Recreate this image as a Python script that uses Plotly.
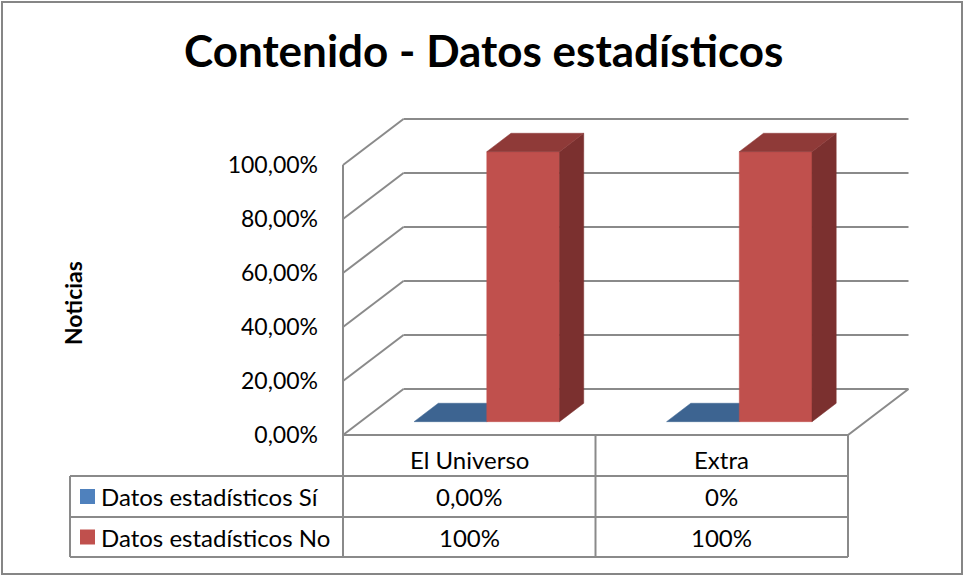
import plotly.graph_objects as go

# ---------------- data ----------------
categories = ["El Universo", "Extra"]
series_names = ["Datos estadísticos Sí", "Datos estadísticos No"]
si_values = [0.0, 0.0]
no_values = [100.0, 100.0]
si_labels = ["0,00%", "0%"]
no_labels = ["100%", "100%"]
y_ticks = [0, 20, 40, 60, 80, 100]
y_ticktext = ["0,00%", "20,00%", "40,00%", "60,00%", "80,00%", "100,00%"]
chart_title = "Contenido - Datos estadísticos"
y_title = "Noticias"

# ---------------- layout / style constants ----------------
W, H = 964, 576
PX_X0 = 343.0        # pixel where category axis starts (front)
PX_PER_CAT = 252.5   # pixels per category
PX_Y0 = 435.0        # pixel of 0% on front edge
PX_PER_PCT = 2.7     # pixels per percent
DEPTH_PX_X = 60.5
DEPTH_PX_Y = 46.0
DX = DEPTH_PX_X / PX_PER_CAT
DY = DEPTH_PX_Y / PX_PER_PCT
BAR_W = 0.288
D_FRONT, D_BACK = 0.29, 0.69
GRID = "#8a8a8a"
FONT = "Lato"

colors = [
    dict(front="#4F81BD", top="#3D6491", side="#2F4E72", key="#4F81BD"),
    dict(front="#C0504D", top="#8F3A38", side="#7B302F", key="#C0504D"),
]

n = len(categories)
xr = [-PX_X0 / PX_PER_CAT, (W - PX_X0) / PX_PER_CAT]
yr = [(PX_Y0 - H) / PX_PER_PCT, PX_Y0 / PX_PER_PCT]


def P(x, v, d):
    return x + d * DX, v + d * DY


def px(xd):  # data x -> paper
    return (PX_X0 + xd * PX_PER_CAT) / W


def py(p):  # pixel y -> paper
    return 1 - p / H


def pxp(p):  # pixel x -> paper
    return p / W


fig = go.Figure()


def line(pts, color=GRID, width=2):
    xs = [p[0] for p in pts]
    ys = [p[1] for p in pts]
    fig.add_trace(go.Scatter(x=xs, y=ys, mode="lines", line=dict(color=color, width=width),
                             hoverinfo="skip", showlegend=False))


def poly(pts, color):
    xs = [p[0] for p in pts] + [pts[0][0]]
    ys = [p[1] for p in pts] + [pts[0][1]]
    fig.add_trace(go.Scatter(x=xs, y=ys, mode="lines", fill="toself", fillcolor=color,
                             line=dict(color=color, width=0.5), hoverinfo="skip", showlegend=False))


# walls
for t in y_ticks:
    line([P(0, t, 1), P(n, t, 1)])
    line([P(0, t, 0), P(0, t, 1)])
line([P(0, 0, 0), P(0, max(y_ticks), 0)])
line([P(0, 0, 0), P(n, 0, 0), P(n, 0, 1)])

# bars
values = [si_values, no_values]
for i in range(n):
    c = i + 0.5
    for s in range(2):
        v = values[s][i]
        x0 = c - BAR_W + s * BAR_W
        x1 = x0 + BAR_W
        col = colors[s]
        if v > 0:
            poly([P(x0, 0, D_FRONT), P(x1, 0, D_FRONT), P(x1, v, D_FRONT), P(x0, v, D_FRONT)], col["front"])
            poly([P(x1, 0, D_FRONT), P(x1, 0, D_BACK), P(x1, v, D_BACK), P(x1, v, D_FRONT)], col["side"])
        poly([P(x0, v, D_FRONT), P(x1, v, D_FRONT), P(x1, v, D_BACK), P(x0, v, D_BACK)], col["top"])

shapes = []
# outer border
shapes.append(dict(type="rect", xref="paper", yref="paper", x0=pxp(2), x1=pxp(962), y0=py(574), y1=py(2),
                   line=dict(color="#868686", width=2)))
# table
T_LEFT = 70
ROW_Y = [476, 517, 557]
for ry in ROW_Y:
    shapes.append(dict(type="line", xref="paper", yref="paper", x0=pxp(T_LEFT), x1=px(n), y0=py(ry), y1=py(ry),
                       line=dict(color=GRID, width=2)))
shapes.append(dict(type="line", xref="paper", yref="paper", x0=pxp(T_LEFT), x1=pxp(T_LEFT), y0=py(ROW_Y[0]), y1=py(ROW_Y[-1]),
                   line=dict(color=GRID, width=2)))
for k in range(n + 1):
    shapes.append(dict(type="line", xref="x", yref="paper", x0=k, x1=k, y0=py(PX_Y0), y1=py(ROW_Y[-1]),
                       line=dict(color=GRID, width=2)))
# legend keys
row_centers = [(ROW_Y[0] + ROW_Y[1]) / 2, (ROW_Y[1] + ROW_Y[2]) / 2]
for s in range(2):
    rc = row_centers[s]
    shapes.append(dict(type="rect", xref="paper", yref="paper", x0=pxp(80), x1=pxp(95), y0=py(rc + 7.5), y1=py(rc - 7.5),
                       fillcolor=colors[s]["key"], line=dict(width=0)))

TXT = 24
annotations = []
annotations.append(dict(text=chart_title, xref="paper", yref="paper", x=pxp(483), y=py(50), showarrow=False,
                        xanchor="center", yanchor="middle", font=dict(family=FONT, size=44, color="black", weight="bold")))
annotations.append(dict(text=y_title, xref="paper", yref="paper", x=pxp(73), y=py(303), showarrow=False, textangle=-90,
                        xanchor="center", yanchor="middle", font=dict(family=FONT, size=23, color="black", weight="bold")))
for i, cat in enumerate(categories):
    annotations.append(dict(text=cat, xref="x", yref="paper", x=i + 0.5, y=py(459), showarrow=False,
                            xanchor="center", yanchor="middle", font=dict(family=FONT, size=TXT, color="black")))
    annotations.append(dict(text=si_labels[i], xref="x", yref="paper", x=i + 0.5, y=py(row_centers[0]), showarrow=False,
                            xanchor="center", yanchor="middle", font=dict(family=FONT, size=TXT, color="black")))
    annotations.append(dict(text=no_labels[i], xref="x", yref="paper", x=i + 0.5, y=py(row_centers[1]), showarrow=False,
                            xanchor="center", yanchor="middle", font=dict(family=FONT, size=TXT, color="black")))
for s in range(2):
    annotations.append(dict(text=series_names[s], xref="paper", yref="paper", x=pxp(99), y=py(row_centers[s]), showarrow=False,
                            xanchor="left", yanchor="middle", font=dict(family=FONT, size=TXT, color="black")))

fig.update_layout(
    width=W, height=H, margin=dict(l=0, r=0, t=0, b=0, pad=0),
    paper_bgcolor="white", plot_bgcolor="white", showlegend=False,
    xaxis=dict(range=xr, visible=False, fixedrange=True),
    yaxis=dict(range=yr, anchor="free", position=PX_X0 / W, showgrid=False, zeroline=False, showline=False,
               tickvals=y_ticks, ticktext=y_ticktext, ticks="", ticklabelstandoff=25,
               tickfont=dict(family=FONT, size=23, color="black"), fixedrange=True),
    shapes=shapes, annotations=annotations,
)

fig.write_html("out.html", config={"displayModeBar": False},
               post_script="document.body.style.margin='0px';document.body.style.overflow='hidden';")
